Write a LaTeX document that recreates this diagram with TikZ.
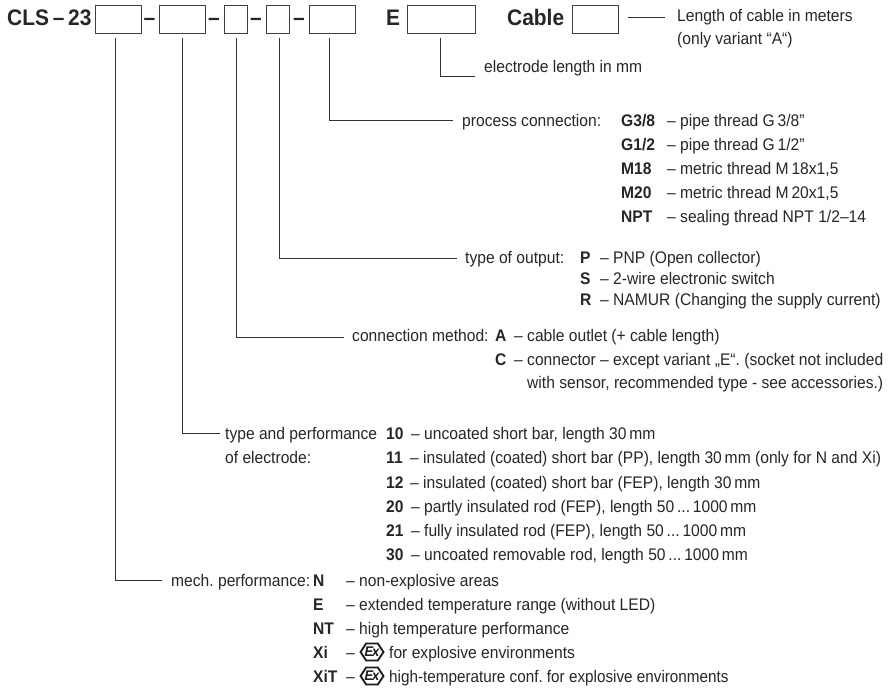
\documentclass[tikz,border=0pt]{standalone}
\usepackage{fontspec}
\setmainfont[FakeStretch=0.93]{Liberation Sans}
\usetikzlibrary{shapes.symbols}
\tikzset{
    slot/.style={draw=black!75, line width=0.8pt, inner sep=0pt, anchor=north west, minimum height=28pt},
    lead/.style={draw=black!80, line width=0.7pt},
    txt/.style={anchor=west, inner sep=0pt, text height=12pt, text depth=1pt, font=\fontsize{16.8}{18}\selectfont\frenchspacing, text=black!85},
    key/.style={txt, font=\fontsize{16.8}{18}\selectfont\bfseries},
    head/.style={anchor=west, inner sep=0pt, text height=16pt, text depth=0pt, font=\fontsize{22.5}{24}\selectfont\bfseries, text=black!85},
    exlabel/.style={inner sep=0pt, font=\fontsize{14}{14}\selectfont\bfseries\itshape, text=black!90},
    exsign/.style={draw=black!90, line width=1.8pt, signal, signal to=east and west, signal pointer angle=112, inner sep=0pt, minimum width=23pt, minimum height=17pt, label={[exlabel]center:E\kern-1pt x}}
}
\begin{document}
\begin{tikzpicture}[x=1pt,y=-1pt]
\useasboundingbox (0,0) rectangle (895,689);
    % order code
    \node[head] (cls) at (7,17.5) {CLS\,–\,23};
    \node[slot, minimum width=46pt] (a) at (95,5) {};
    \node[head] (d1) at (143.5,17.5) {–};
    \node[slot, minimum width=46pt] (b) at (159,5) {};
    \node[head] (d2) at (208,17.5) {–};
    \node[slot, minimum width=23pt] (c) at (224,5) {};
    \node[head] (d3) at (250,17.5) {–};
    \node[slot, minimum width=23pt] (d) at (266,5) {};
    \node[head] (d4) at (293,17.5) {–};
    \node[slot, minimum width=46pt] (e) at (309,5) {};
    \node[head] (elabel) at (386,17.5) {E};
    \node[slot, minimum width=68pt] (f) at (407,5) {};
    \node[head] (cablelabel) at (507,17.5) {Cable};
    \node[slot, minimum width=46pt] (g) at (572,5) {};
    % labels
    \node[txt] (cablelen) at (677,16) {Length of cable in meters};
    \node[txt] at (677,39) {(only variant “A“)};
    \node[txt] (electrode) at (484,67) {electrode length in mm};
    \node[txt] (process) at (462,121) {process connection:};
    \node[key] at (621,121) {G3/8};
    \node[key] at (621,145) {G1/2};
    \node[key] at (621,169) {M18};
    \node[key] at (621,193) {M20};
    \node[key] at (621,217) {NPT};
    \node[txt] at (667,121) {– pipe thread G\,3/8"};
    \node[txt] at (667,145) {– pipe thread G\,1/2"};
    \node[txt] at (667,169) {– metric thread M\,18x1,5};
    \node[txt] at (667,193) {– metric thread M\,20x1,5};
    \node[txt] at (667,217) {– sealing thread NPT 1/2–14};
    \node[txt] (output) at (465,258) {type of output:};
    \node[key] at (580,258) {P};
    \node[key] at (580,279) {S};
    \node[key] at (580,300) {R};
    \node[txt] at (600,258) {– PNP (Open collector)};
    \node[txt] at (600,279) {– 2-wire electronic switch};
    \node[txt] at (600,300) {– NAMUR (Changing the supply current)};
    \node[txt] (method) at (352,336) {connection method:};
    \node[key] at (495,336) {A};
    \node[key] at (495,360) {C};
    \node[txt] at (514,336) {– cable outlet (+ cable length)};
    \node[txt] at (514,360) {– connector – except variant „E“. (socket not included};
    \node[txt] at (527,383) {with sensor, recommended type - see accessories.)};
    \node[txt] (electr) at (225,434) {type and performance};
    \node[txt] at (225,458) {of electrode:};
    \node[key] at (386,434) {10};
    \node[key] at (386,458) {11};
    \node[key] at (386,483) {12};
    \node[key] at (386,507) {20};
    \node[key] at (386,531) {21};
    \node[key] at (386,555) {30};
    \node[txt] at (411,434) {– uncoated short bar, length 30\,mm};
    \node[txt] at (410,458) {– insulated (coated) short bar (PP), length 30\,mm (only for N and Xi)};
    \node[txt] at (410,483) {– insulated (coated) short bar (FEP), length 30\,mm};
    \node[txt] at (411,507) {– partly insulated rod (FEP), length 50\,...\,1000\,mm};
    \node[txt] at (411,531) {– fully insulated rod (FEP), length 50\,...\,1000\,mm};
    \node[txt] at (411,555) {– uncoated removable rod, length 50\,...\,1000\,mm};
    \node[txt] (mech) at (171,581) {mech. performance:};
    \node[key] at (313,581) {N};
    \node[key] at (313,605) {E};
    \node[key] at (313,629) {NT};
    \node[key] at (313,653) {Xi};
    \node[key] at (313,677) {XiT};
    \node[txt] at (346,581) {– non-explosive areas};
    \node[txt] at (346,605) {– extended temperature range (without LED)};
    \node[txt] at (346,629) {– high temperature performance};
    \node[txt] at (346,653) {–};
    \node[exsign] (ex1) at (372,652) {};
    \node[txt] at (389,653) {for explosive environments};
    \node[txt] at (346,677) {–};
    \node[exsign] (ex2) at (372,676) {};
    \node[txt] at (389,677) {\scalebox{0.977}[1]{high-temperature conf. for explosive environments}};
    % leaders
    \coordinate (a1) at (115,38);
    \coordinate (b1) at (182,38);
    \coordinate (c1) at (236,38);
    \coordinate (d1x) at (279.5,38);
    \coordinate (e1) at (329,38);
    \coordinate (f1) at (440,38);
    \coordinate (g1) at (628,17);
    \coordinate (g2) at (665,17);
    \coordinate (a2) at (162,580);
    \coordinate (b2) at (220,433);
    \coordinate (c2) at (344,337);
    \coordinate (d2x) at (457,258);
    \coordinate (e2) at (453,120);
    \coordinate (f2) at (475,76);
    \draw[lead] (a1) |- (a2);
    \draw[lead] (b1) |- (b2);
    \draw[lead] (c1) |- (c2);
    \draw[lead] (d1x) |- (d2x);
    \draw[lead] (e1) |- (e2);
    \draw[lead] (f1) |- (f2);
    \draw[lead] (g1) -- (g2);
\end{tikzpicture}
\end{document}
